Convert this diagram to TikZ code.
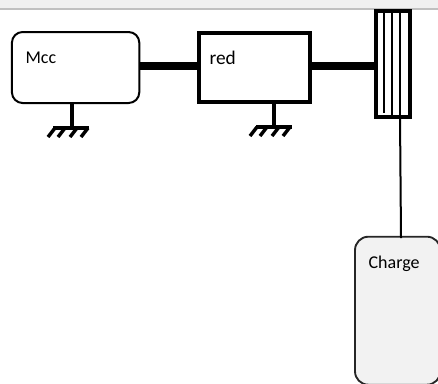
\documentclass[tikz,border=0pt]{standalone}
\usepackage{fontspec}
\setmainfont{Carlito}
\usepackage{xcolor}
\usetikzlibrary{positioning,calc}

\definecolor{bargray}{HTML}{F0F0F0}
\definecolor{barline}{HTML}{C0C0C0}
\definecolor{loadgray}{HTML}{F2F2F2}

\begin{document}
\begin{tikzpicture}[
  x=0.75pt,y=-0.75pt,
  softbox/.style={draw=black,rounded corners=8pt,line width=1.5pt,outer sep=0pt,
    inner sep=0pt,minimum width=95.5pt,minimum height=53.25pt},
  hardbox/.style={draw=black,line width=3pt,outer sep=0pt,inner sep=0pt,
    minimum width=83.25pt,minimum height=51.5pt},
  rackbox/.style={draw=black,line width=3pt,outer sep=0pt,inner sep=0pt,
    minimum width=25.5pt,minimum height=79pt},
  loadbox/.style={draw=black!85,fill=loadgray,rounded corners=10pt,line width=1.4pt,outer sep=0pt,
    inner sep=0pt,minimum width=64pt,minimum height=111pt},
  tag/.style={anchor=west,inner sep=0pt,font=\fontsize{13.5pt}{16pt}\selectfont},
  shaft/.style={line width=6pt,draw=black},
  stem/.style={line width=3pt,draw=black},
  gridline/.style={line width=1.6pt,draw=black},
  link/.style={line width=1.5pt,draw=black},
  hatch/.style={line width=2.6pt,draw=black}
]
\useasboundingbox (0,0) rectangle (438,383);
% window edge
\fill[bargray] (0,0) rectangle (438,8);
\fill[barline] (0,8) rectangle (438,10);

\node[softbox] at (75.6,67.5) (mcc) {};
\node[hardbox, right=45pt of mcc] (red) {};
\node[rackbox, right=49.5pt of red, yshift=2.6pt] (rack) {};
\node[loadbox, below=90pt of rack, xshift=3.3pt] (charge) {};

\node[tag] at ([xshift=10pt,yshift=-19.5pt]mcc.north west) (mcctext) {Mcc};
\node[tag, font=\fontsize{14.5pt}{16pt}\selectfont] at ([xshift=7.5pt,yshift=-18.5pt]red.north west) (redtext) {red};
\node[tag] at ([xshift=10pt,yshift=-20.5pt]charge.north west) (chargetext) {Charge};

\draw[shaft] ([yshift=1.5pt]mcc.east) -- ([yshift=1.5pt]red.west);
\draw[shaft] ([yshift=1.3pt]red.east) -- ([yshift=1.3pt]red.east -| rack.west);

% rack lines
\coordinate (linea) at (384,12);
\coordinate (lineb) at (392,12);
\coordinate (linec) at (400,12);
\draw[gridline] (linea) -- (384,113);
\draw[gridline] (lineb) -- (392,116);
\draw[gridline] (linec) -- (400,116);
\draw[link] (linec |- rack.south) -- (401,238);

% grounds
\coordinate (mccgnd) at (72,128);
\coordinate (redgnd) at (274,127);
\draw[stem] (mccgnd |- mcc.south) -- (mccgnd);
\draw[stem] (redgnd |- red.south) -- (redgnd);
\draw[hatch] (53,128) -- (89,128);
\draw[hatch] (256,127) -- (292,127);
\foreach \x in {55,65,77,88} \draw[hatch] (\x,128) -- (\x-7,137);
\foreach \x in {257,267,279,290} \draw[hatch] (\x,127) -- (\x-7,136);
\end{tikzpicture}
\end{document}
